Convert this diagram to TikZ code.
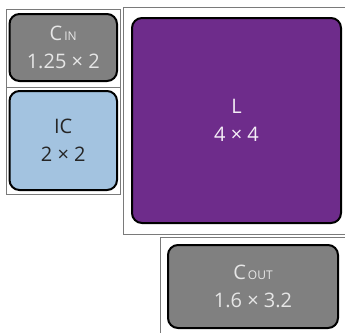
\documentclass[tikz,border=0pt]{standalone}
\usepackage{fontspec}
\setmainfont{Open Sans}
\definecolor{cgray}{HTML}{808080}
\definecolor{icblue}{HTML}{A3C3E0}
\definecolor{lpurple}{HTML}{6E2C8B}
\definecolor{frameline}{HTML}{7A7A7A}
\definecolor{ltext}{HTML}{E6E6E6}
\newcommand{\sbs}[1]{{\fontsize{12}{12}\selectfont\,#1}}
\tikzset{
  part/.style={draw=black, line width=2pt, rounded corners=10pt, align=center,
    inner sep=0pt, font=\fontsize{20}{28}\selectfont},
  frame/.style={draw=frameline, line width=1pt}
}
\begin{document}
\begin{tikzpicture}[x=1pt,y=-1pt]
\useasboundingbox (0,0) rectangle (345,332);
% frames
\draw[frame] (6,9) rectangle (120,194);
\draw[frame] (6,87) -- (120,87);
\draw[frame] (350,7) -- (123,7) -- (123,234) -- (350,234);
\draw[frame] (350,237) -- (160,237) -- (160,340);
% parts
\node[part, fill=cgray, text=ltext, minimum width=107.5pt, minimum height=67pt] (cin) at (63.25,47.5) {C\sbs{IN}\\1.25 × 2};
\node[part, fill=icblue, text=black!85, minimum width=107.5pt, minimum height=99pt] (ic) at (63.25,140.5) {IC\\2 × 2};
\node[part, fill=lpurple, text=white!92!lpurple, minimum width=209pt, minimum height=205pt] (l) at (236.5,120.5) {L\\4 × 4};
\node[part, fill=cgray, text=ltext, minimum width=170pt, minimum height=83pt] (cout) at (253,286.5) {C\sbs{OUT}\\1.6 × 3.2};
\end{tikzpicture}
\end{document}
